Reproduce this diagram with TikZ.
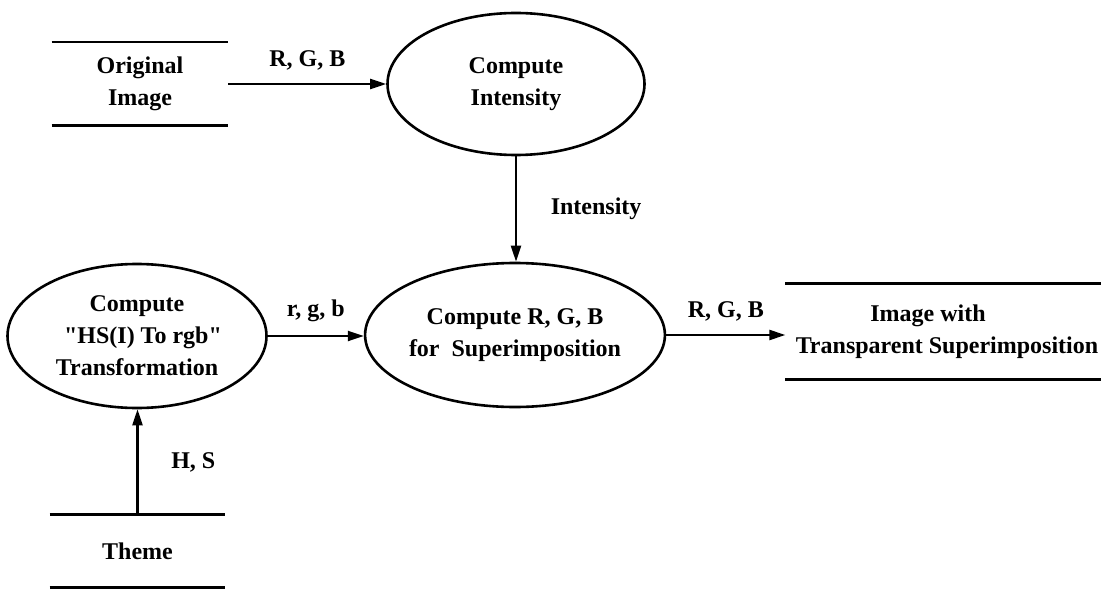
\documentclass[tikz,border=0pt]{standalone}
\usepackage{fontspec}
\setmainfont{Liberation Serif}[Ligatures=TeXOff]
\usetikzlibrary{shapes.geometric,arrows.meta}

\begin{document}
\begin{tikzpicture}[x=0.5pt,y=-0.5pt,
	every node/.style={font=\fontsize{12}{16}\selectfont\bfseries},
	proc/.style={ellipse,draw,line width=1.3pt,inner sep=0pt,align=center},
	store/.style={inner sep=0pt,align=center},
	flow/.style={line width=1.1pt,-{Triangle[length=8pt,width=5pt]}}]
	\useasboundingbox (0,0) rectangle (1101,588);
	\node[proc,minimum width=128.5pt,minimum height=71pt] (CI) at (516,84) {Compute\\Intensity};
	\node[proc,minimum width=128.5pt,minimum height=72pt] (CS) at (515,335) {Compute R, G, B\\for\ \ Superimposition};
	\node[proc,minimum width=129.5pt,minimum height=72pt] (HS) at (137,336) {Compute\\\ \ "HS(I) To rgb"\\Transformation};
	\node[store,minimum width=88pt,minimum height=41.5pt] (OI) at (140,84) {Original\\Image};
	\node[store,minimum width=87.5pt,minimum height=36pt] (TH) at (137.5,551) {Theme};
	\node[store,minimum height=47.5pt] (IW) at (947,331.5) {Image with\hspace*{19pt}\\Transparent Superimposition};
	\coordinate (edge) at (1101,331.5);
	\foreach \S in {OI,TH}{
		\draw[line width=1.4pt] (\S.north west) -- (\S.north east)
			(\S.south west) -- (\S.south east);
	}
	\draw[line width=1.4pt] ([xshift=-5pt]IW.north west) -- (IW.north west -| edge)
		([xshift=-5pt]IW.south west) -- (IW.south west -| edge);
	\draw[flow] (OI.east) -- node[above=3pt] (lrgb) {R, G, B} (CI.west);
	\draw[flow] (CI.south) -- node[right=13.5pt] (lint) {Intensity} (CI.south |- CS.north);
	\draw[flow] (HS.east) -- node[above=3pt] (lsrgb) {r, g, b} (HS.east -| CS.west);
	\draw[flow] (CS.east) -- node[above=3pt] (lout) {R, G, B} ([xshift=-5pt]CS.east -| IW.west);
	\draw[flow] (TH.north) -- node[right=13pt] (lhs) {H, S} (TH.north |- HS.south);
\end{tikzpicture}
\end{document}
